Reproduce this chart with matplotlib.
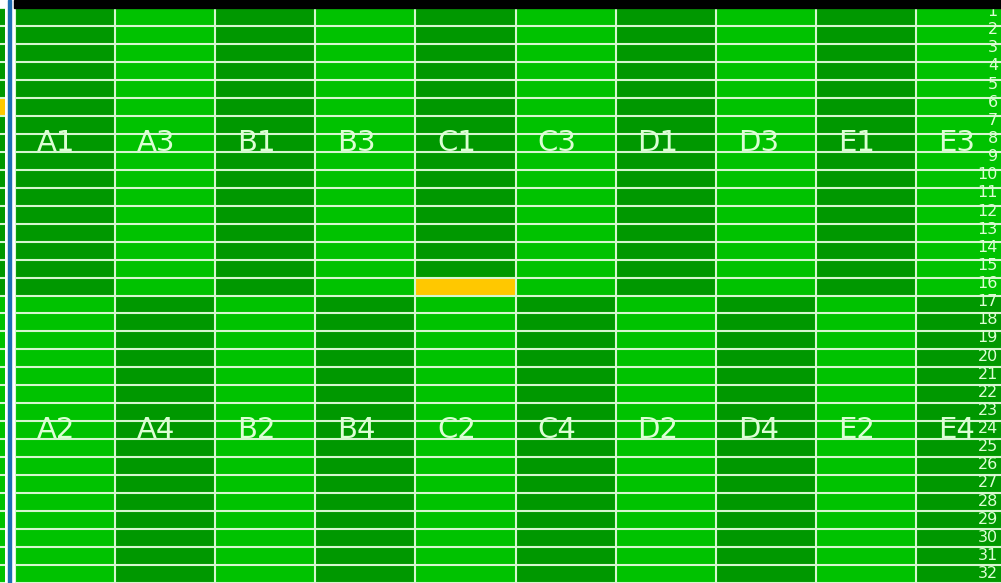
import numpy as np
import matplotlib.pyplot as plt
from matplotlib.colors import ListedColormap
from matplotlib.patches import Rectangle

# column labels (upper half / lower half of the board)
top_labels = ["A1", "A3", "B1", "B3", "C1", "C3", "D1", "D3", "E1", "E3"]
bottom_labels = ["A2", "A4", "B2", "B4", "C2", "C4", "D2", "D4", "E2", "E4"]
row_numbers = list(range(1, 33))

# shade of each column: 0 = dark green, 1 = light green
top_shade = [0, 1, 0, 1, 0, 1, 0, 1, 0, 1]
bottom_shade = [1, 0, 1, 0, 1, 0, 1, 0, 1, 0]
# highlighted cell (row number, column label)
highlight_row = 16
highlight_col = "C1"

# neighbouring board, only its last column is visible at the left edge
left_top_shade = 0
left_bottom_shade = 1
left_highlight_row = 6

DARK = "#009800"
LIGHT = "#00c200"
YELLOW = "#ffc800"
LINE = "#d6f7d0"
TEXT = "#dcffd4"

cmap = ListedColormap([DARK, LIGHT, YELLOW])

n_rows = len(row_numbers)
n_cols = len(top_labels)
half = n_rows // 2

cells = np.zeros((n_rows, n_cols))
cells[:half, :] = top_shade
cells[half:, :] = bottom_shade
cells[highlight_row - 1, top_labels.index(highlight_col)] = 2

left_cells = np.zeros((n_rows, 1))
left_cells[:half] = left_top_shade
left_cells[half:] = left_bottom_shade
left_cells[left_highlight_row - 1] = 2

W, H = 1001, 583
fig = plt.figure(figsize=(W / 100, H / 100), dpi=100)
fig.patch.set_facecolor("white")

top_px = 8
col_px = 100.1

# top black bar and the blue divider
fig.patches.append(Rectangle((14 / W, (H - top_px) / H), 1, top_px / H,
                             transform=fig.transFigure, color="black", zorder=0))
fig.patches.append(Rectangle((8 / W, 0), 3 / W, 1,
                             transform=fig.transFigure, color="#1f6fb5", zorder=0))

# left sliver of the neighbouring board
axl = fig.add_axes([0, 0, 5 / W, (H - top_px) / H])
axl.imshow(left_cells, cmap=cmap, vmin=0, vmax=2, aspect="auto",
           interpolation="nearest", extent=(0, 1, n_rows, 0))
axl.hlines(np.arange(n_rows + 1), 0, 1, color=LINE, lw=1.5)
axl.set_xlim(0, 1)
axl.set_ylim(n_rows, 0)
axl.axis("off")

# main board
ax = fig.add_axes([15 / W, 0, (W - 15) / W, (H - top_px) / H])
ax.imshow(cells, cmap=cmap, vmin=0, vmax=2, aspect="auto",
          interpolation="nearest", extent=(0, n_cols, n_rows, 0))
ax.hlines(np.arange(n_rows + 1), 0, n_cols, color=LINE, lw=1.5)
ax.vlines(np.arange(n_cols + 1), 0, n_rows, color=LINE, lw=1.5)
ax.set_xlim(0, (W - 15) / col_px)
ax.set_ylim(n_rows, 0)
ax.axis("off")

for i, (t, b) in enumerate(zip(top_labels, bottom_labels)):
    ax.text(i + 0.22, 7.5, t, color=TEXT, fontsize=21, va="center", ha="left")
    ax.text(i + 0.22, 23.5, b, color=TEXT, fontsize=21, va="center", ha="left")

for i, n in enumerate(row_numbers):
    ax.text(9.82, 0.2 + i * 1.009, str(n), color=TEXT, fontsize=11.5,
            va="center", ha="right")

fig.savefig("out.png", dpi=100, facecolor=fig.get_facecolor())
